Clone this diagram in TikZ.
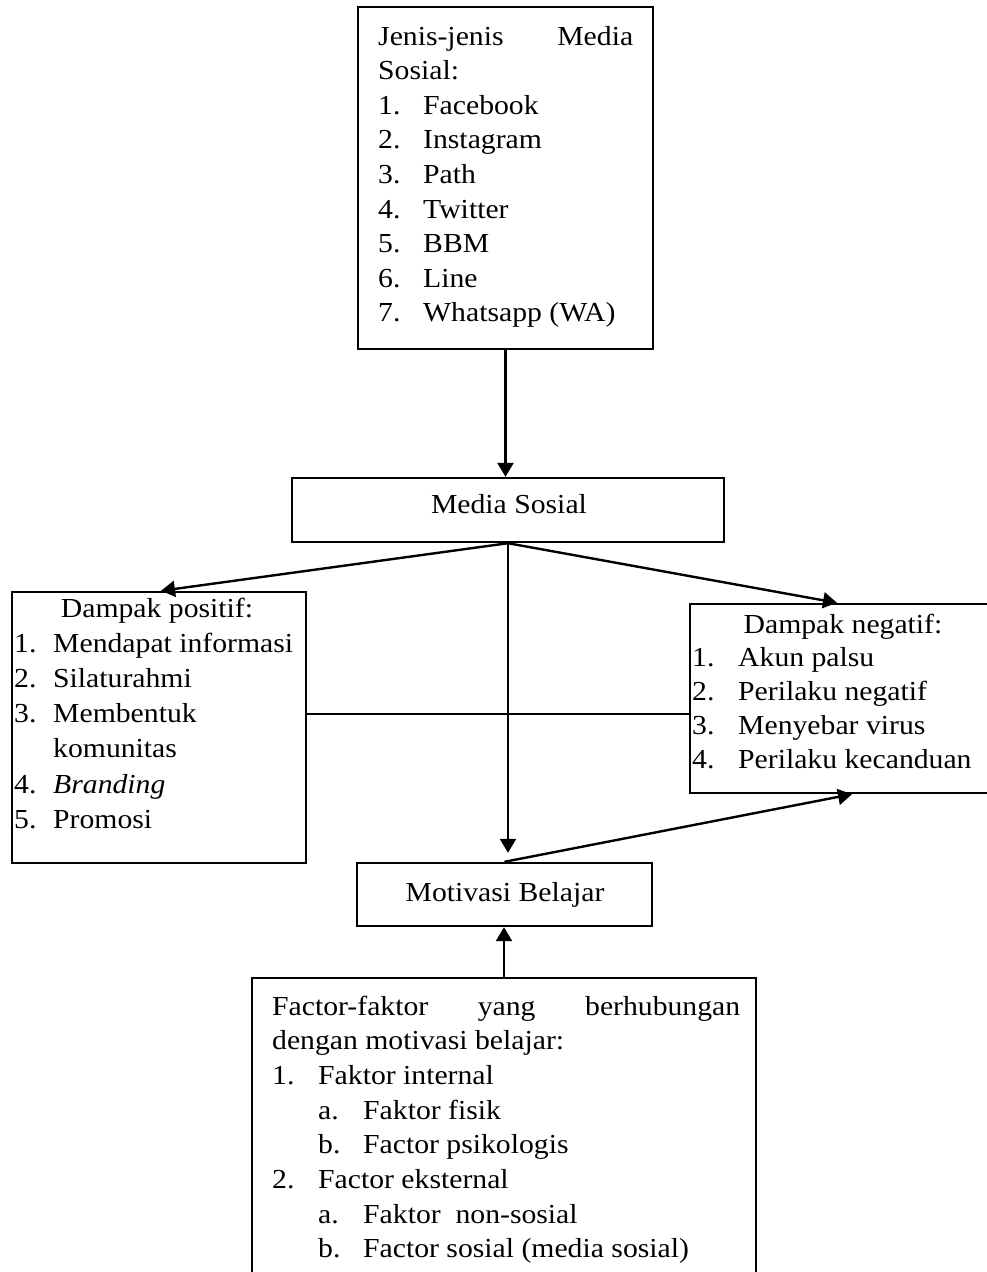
\documentclass[tikz,border=0pt]{standalone}
\usepackage{fontspec}
\setmainfont{Liberation Serif}[FakeStretch=1.08]
\usetikzlibrary{arrows.meta}
\newcommand\fs{\fontsize{27.5}{34.6}\selectfont}
\begin{document}
\begin{tikzpicture}[x=1pt,y=-1pt,
  box/.style={draw,line width=2.4pt,inner sep=0pt},
  t/.style={anchor=base west,inner sep=0pt,font=\fs},
  tc/.style={anchor=base,inner sep=0pt,font=\fs},
  arr/.style={line width=2.4pt,-{Triangle[length=14pt,width=16pt]}},
  ln/.style={line width=2.4pt}]
\useasboundingbox (0,0) rectangle (987,1272);
% boxes
\node[box,minimum width=295pt,minimum height=342pt] (jenis) at (505.5,178) {};
\node[box,minimum width=432pt,minimum height=64pt] (media) at (508,510) {};
\node[box,minimum width=294pt,minimum height=271pt] (pos) at (159,727.5) {};
\node[box,minimum width=306pt,minimum height=189pt] (neg) at (843,698.5) {};
\node[box,minimum width=295pt,minimum height=63pt] (mot) at (504.5,894.5) {};
\node[box,minimum width=504pt,minimum height=322pt] (fak) at (504,1139) {};
% top box text
\node[t] (j0) at (378,45) {\hbox to 255pt{Jenis-jenis\hfill Media}};
\node[t] (j00) at (378,79.6) {Sosial:};
\foreach \n/\s [count=\i] in {1./Facebook,2./Instagram,3./Path,4./Twitter,5./BBM,6./Line,7./Whatsapp (WA)}{
  \node[t] (jn\i) at (378,{79.6+34.6*\i}) {\n};
  \node[t] (js\i) at (423,{79.6+34.6*\i}) {\s};
}
% center texts
\node[tc] (mediat) at (509,513) {Media Sosial};
\node[tc] (mott) at (505,901.5) {Motivasi Belajar};
% positive
\node[tc] (p0) at (157,617) {Dampak positif:};
\foreach \n/\s [count=\i] in {1./Mendapat informasi,2./Silaturahmi,3./Membentuk,/komunitas,4./{\itshape Branding},5./Promosi}{
  \node[t] (pn\i) at (14,{617+35.2*\i}) {\n};
  \node[t] (ps\i) at (53,{617+35.2*\i}) {\s};
}
% negative
\node[tc] (n0) at (843,633) {Dampak negatif:};
\foreach \n/\s [count=\i] in {1./Akun palsu,2./Perilaku negatif,3./Menyebar virus,4./Perilaku kecanduan}{
  \node[t] (nn\i) at (692,{633+33.75*\i}) {\n};
  \node[t] (ns\i) at (738,{633+33.75*\i}) {\s};
}
% bottom box
\node[t] (f0) at (272,1015) {\hbox to 468pt{Factor-faktor\hfill yang\hfill berhubungan}};
\node[t] (f1) at (272,1049.7) {dengan motivasi belajar:};
\node[t] (f2n) at (272,1084.4) {1.};
\node[t] (f2s) at (318,1084.4) {Faktor internal};
\node[t] (f3n) at (318,1119.1) {a.};
\node[t] (f3s) at (363,1119.1) {Faktor fisik};
\node[t] (f4n) at (318,1153.8) {b.};
\node[t] (f4s) at (363,1153.8) {Factor psikologis};
\node[t] (f5n) at (272,1188.5) {2.};
\node[t] (f5s) at (318,1188.5) {Factor eksternal};
\node[t] (f6n) at (318,1223.2) {a.};
\node[t] (f6s) at (363,1223.2) {Faktor\ \ non-sosial};
\node[t] (f7n) at (318,1257.9) {b.};
\node[t] (f7s) at (363,1257.9) {Factor sosial (media sosial)};
% connectors
\draw[arr] (jenis.south) -- (jenis.south |- media.north);
\draw[arr] (media.south) -- ([xshift=2pt]pos.north);
\draw[arr] (media.south) -- ([xshift=-6pt]neg.north);
\draw[arr,shorten >=9pt] (media.south) -- (media.south |- mot.north);
\draw[ln] (pos.east |- 0,714) -- (neg.west |- 0,714);
\draw[arr] (mot.north) -- ([xshift=9pt]neg.south);
\draw[arr] (fak.north) -- (fak.north |- mot.south);
\end{tikzpicture}
\end{document}
